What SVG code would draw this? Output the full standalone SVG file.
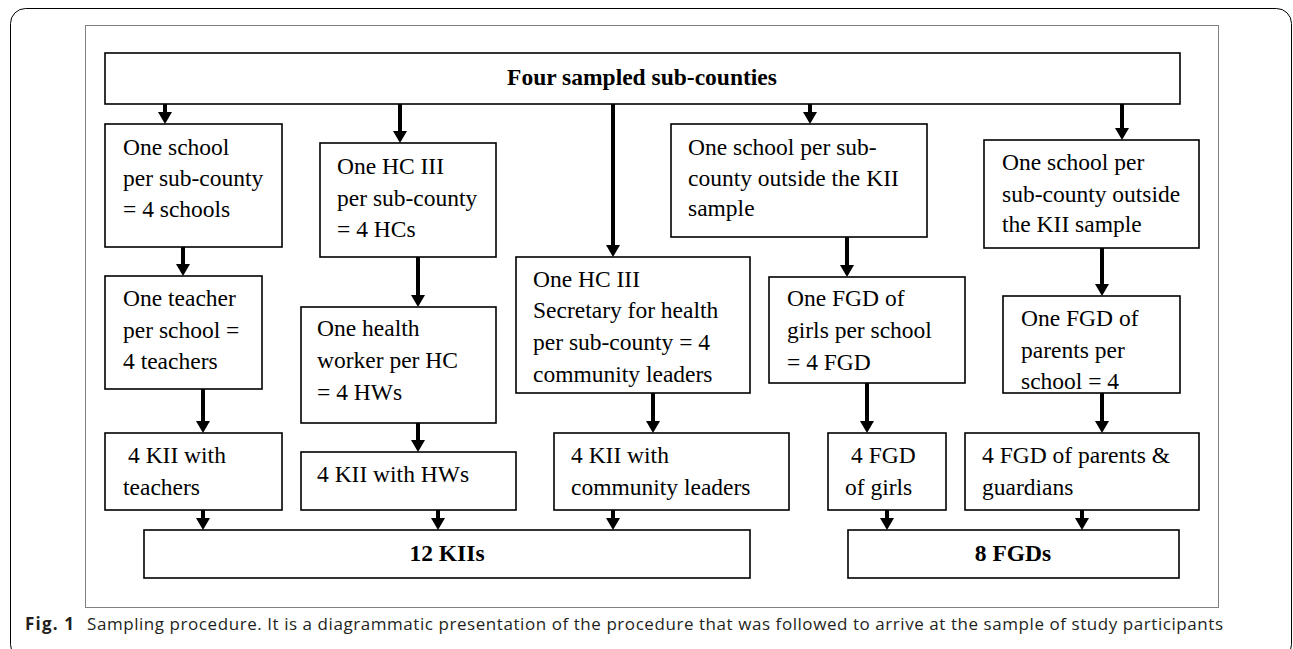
<svg xmlns="http://www.w3.org/2000/svg" width="1293" height="649" viewBox="0 0 1293 649">
<style>
.box{fill:#fff;stroke:#000;stroke-width:1.6}
.t{font-family:"Liberation Serif","Times New Roman",serif;font-size:23.5px;fill:#000}
.b{font-weight:bold}
.ln{stroke:#000;stroke-width:4;fill:none;marker-end:url(#ah)}
.cap{font-family:"Open Sans","Noto Sans",sans-serif;font-size:17px;fill:#231f20}
</style>
<defs>
<marker id="ah" markerUnits="userSpaceOnUse" viewBox="0 0 12 14" markerWidth="12" markerHeight="14" refX="0" refY="7" orient="auto">
<path d="M0,0 L12,7 L0,14 z" fill="#000"/>
</marker>
</defs>
<rect width="1293" height="649" fill="#fff"/>
<rect x="10.5" y="8.5" width="1281" height="651" rx="15" fill="none" stroke="#000" stroke-width="1"/>
<rect x="85.5" y="25.5" width="1133" height="582" fill="none" stroke="#000" stroke-width="1" stroke-dasharray="1,1"/>

<g id="connectors">
<line class="ln" x1="165" y1="104" x2="165" y2="112"/>
<line class="ln" x1="400" y1="104" x2="400" y2="131"/>
<line class="ln" x1="613" y1="104" x2="613" y2="245"/>
<line class="ln" x1="810" y1="104" x2="810" y2="112"/>
<line class="ln" x1="1122" y1="104" x2="1122" y2="128"/>
<line class="ln" x1="183" y1="247" x2="183" y2="264"/>
<line class="ln" x1="418" y1="257" x2="418" y2="295"/>
<line class="ln" x1="847" y1="237" x2="847" y2="265"/>
<line class="ln" x1="1102" y1="248" x2="1102" y2="284"/>
<line class="ln" x1="203" y1="389" x2="203" y2="421"/>
<line class="ln" x1="418" y1="423" x2="418" y2="440"/>
<line class="ln" x1="653" y1="393" x2="653" y2="421"/>
<line class="ln" x1="867" y1="383" x2="867" y2="421"/>
<line class="ln" x1="1102" y1="393" x2="1102" y2="421"/>
<line class="ln" x1="203" y1="510" x2="203" y2="518"/>
<line class="ln" x1="438" y1="510" x2="438" y2="518"/>
<line class="ln" x1="613" y1="510" x2="613" y2="518"/>
<line class="ln" x1="887" y1="510" x2="887" y2="518"/>
<line class="ln" x1="1082" y1="510" x2="1082" y2="518"/>
</g>

<g id="n-top">
<rect class="box" x="105" y="53" width="1075" height="51"/>
<text class="t b" x="642" y="85" text-anchor="middle">Four sampled sub-counties</text>
</g>
<g id="n-school">
<rect class="box" x="105" y="124" width="177" height="123"/>
<text class="t" x="123" y="155">One school</text>
<text class="t" x="123" y="186">per sub-county</text>
<text class="t" x="123" y="217">= 4 schools</text>
</g>
<g id="n-hc">
<rect class="box" x="320" y="143" width="176" height="114"/>
<text class="t" x="337" y="174">One HC III</text>
<text class="t" x="337" y="206">per sub-county</text>
<text class="t" x="337" y="237">= 4 HCs</text>
</g>
<g id="n-secretary">
<rect class="box" x="516" y="257" width="234" height="136"/>
<text class="t" x="533" y="287">One HC III</text>
<text class="t" x="533" y="318">Secretary for health</text>
<text class="t" x="533" y="350">per sub-county = 4</text>
<text class="t" x="533" y="382">community leaders</text>
</g>
<g id="n-school-fgd1">
<rect class="box" x="671" y="124" width="256" height="113"/>
<text class="t" x="688" y="155">One school per sub-</text>
<text class="t" x="688" y="186">county outside the KII</text>
<text class="t" x="688" y="216">sample</text>
</g>
<g id="n-school-fgd2">
<rect class="box" x="984" y="140" width="215" height="108"/>
<text class="t" x="1002" y="170">One school per</text>
<text class="t" x="1002" y="202">sub-county outside</text>
<text class="t" x="1002" y="232">the KII sample</text>
</g>
<g id="n-teacher">
<rect class="box" x="105" y="276" width="157" height="113"/>
<text class="t" x="123" y="306">One teacher</text>
<text class="t" x="123" y="338">per school =</text>
<text class="t" x="123" y="369">4 teachers</text>
</g>
<g id="n-hw">
<rect class="box" x="301" y="307" width="195" height="116"/>
<text class="t" x="317" y="336">One health</text>
<text class="t" x="317" y="368">worker per HC</text>
<text class="t" x="317" y="400">= 4 HWs</text>
</g>
<g id="n-fgd-girls">
<rect class="box" x="769" y="277" width="196" height="106"/>
<text class="t" x="787" y="306">One FGD of</text>
<text class="t" x="787" y="338">girls per school</text>
<text class="t" x="787" y="370">= 4 FGD</text>
</g>
<g id="n-fgd-parents">
<rect class="box" x="1003" y="296" width="177" height="97"/>
<text class="t" x="1021" y="326">One FGD of</text>
<text class="t" x="1021" y="358">parents per</text>
<text class="t" x="1021" y="389">school = 4</text>
</g>
<g id="n-kii-teachers">
<rect class="box" x="105" y="433" width="177" height="77"/>
<text class="t" x="128" y="463">4 KII with</text>
<text class="t" x="123" y="495">teachers</text>
</g>
<g id="n-kii-hw">
<rect class="box" x="301" y="452" width="215" height="58"/>
<text class="t" x="317" y="482">4 KII with HWs</text>
</g>
<g id="n-kii-leaders">
<rect class="box" x="554" y="433" width="235" height="77"/>
<text class="t" x="571" y="463">4 KII with</text>
<text class="t" x="571" y="495">community leaders</text>
</g>
<g id="n-fgd-girls-out">
<rect class="box" x="828" y="433" width="118" height="77"/>
<text class="t" x="851" y="463">4 FGD</text>
<text class="t" x="845" y="495">of girls</text>
</g>
<g id="n-fgd-parents-out">
<rect class="box" x="965" y="433" width="234" height="77"/>
<text class="t" x="982" y="463">4 FGD of parents &amp;</text>
<text class="t" x="982" y="495">guardians</text>
</g>
<g id="n-kiis">
<rect class="box" x="144" y="530" width="606" height="48"/>
<text class="t b" x="447" y="561" text-anchor="middle">12 KIIs</text>
</g>
<g id="n-fgds">
<rect class="box" x="848" y="530" width="331" height="48"/>
<text class="t b" x="1013" y="561" text-anchor="middle">8 FGDs</text>
</g>

<text class="cap" x="25" y="630" font-weight="bold" textLength="49">Fig. 1</text>
<text class="cap" x="87" y="630" textLength="1136">Sampling procedure. It is a diagrammatic presentation of the procedure that was followed to arrive at the sample of study participants</text>
</svg>
